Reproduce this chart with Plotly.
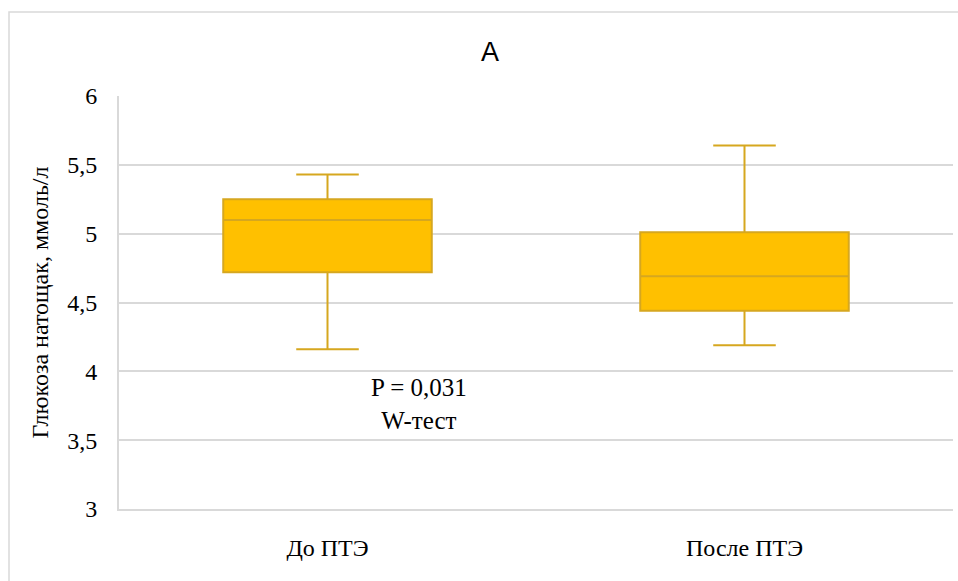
import plotly.graph_objects as go

# Fasting glucose before / after PTE, box statistics (mmol/l)
categories = ["До ПТЭ", "После ПТЭ"]
lower_whisker = [4.16, 4.19]
q1_values = [4.72, 4.44]
medians = [5.10, 4.69]
q3_values = [5.25, 5.01]
upper_whisker = [5.43, 5.64]

y_ticks = [3, 3.5, 4, 4.5, 5, 5.5, 6]
y_tick_labels = ["3", "3,5", "4", "4,5", "5", "5,5", "6"]

FILL = "#FFC000"
EDGE = "#D6A71F"
GRID = "#D9D9D9"
SERIF = "Times New Roman, Liberation Serif, DejaVu Serif, serif"

fig = go.Figure()
for i, cat in enumerate(categories):
    fig.add_trace(go.Box(
        x=[cat],
        q1=[q1_values[i]],
        median=[medians[i]],
        q3=[q3_values[i]],
        lowerfence=[lower_whisker[i]],
        upperfence=[upper_whisker[i]],
        fillcolor=FILL,
        line=dict(color=EDGE, width=2),
        width=0.5,
        whiskerwidth=0.3,
        boxpoints=False,
        showlegend=False,
        hoverinfo="skip",
    ))

L, R, T, B = 119, 5, 96, 72
W, H = 958, 581
pw, ph = W - L - R, H - T - B

fig.update_layout(
    width=W, height=H,
    margin=dict(l=L, r=R, t=T, b=B),
    paper_bgcolor="white",
    plot_bgcolor="white",
    title=dict(text="A", x=490 / W, xanchor="center",
               y=1 - 52 / H, yanchor="middle",
               font=dict(family="Liberation Sans", size=27, color="black")),
    xaxis=dict(
        type="category",
        range=[-0.5, 1.5],
        showgrid=False,
        showline=True, linecolor=GRID, linewidth=2,
        ticks="",
        tickfont=dict(family=SERIF, size=24, color="black"),
        ticklabelstandoff=16,
    ),
    yaxis=dict(
        range=[3, 6],
        tickvals=y_ticks,
        ticktext=y_tick_labels,
        showgrid=True, gridcolor=GRID, gridwidth=2,
        showline=True, linecolor=GRID, linewidth=2,
        zeroline=False,
        ticks="",
        tickfont=dict(family=SERIF, size=24, color="black"),
        ticklabelstandoff=15,
        title=dict(text="Глюкоза натощак, ммоль/л",
                   font=dict(family=SERIF, size=24, color="black"),
                   standoff=12),
    ),
    annotations=[
        dict(x=0.22, y=3.76, xref="x", yref="y",
             text="P = 0,031<br>W-тест", showarrow=False,
             align="center",
             font=dict(family=SERIF, size=25, color="black")),
    ],
    shapes=[
        dict(type="rect", xref="paper", yref="paper",
             x0=(9 - L) / pw, x1=(965 - L) / pw,
             y0=-(590 - (H - B)) / ph, y1=1 + (T - 12) / ph,
             line=dict(color=GRID, width=1.5), fillcolor="rgba(0,0,0,0)",
             layer="below"),
    ],
)

fig.write_html("out.html")
